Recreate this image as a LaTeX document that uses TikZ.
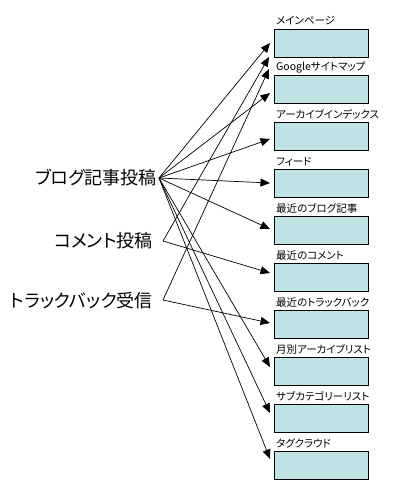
\documentclass[tikz,border=0pt]{standalone}
\usepackage{fontspec}
\newfontfamily\jp[RawFeature=+palt]{Noto Sans CJK JP}
\usetikzlibrary{arrows.meta}
\definecolor{boxfill}{RGB}{191,226,228}
\tikzset{
  box/.style={draw=black, line width=0.9pt, fill=boxfill, minimum width=94pt, minimum height=28pt, inner sep=0pt},
  lbl/.style={anchor=west, inner sep=0pt, font=\jp\fontsize{10.5}{12}\selectfont},
  src/.style={anchor=east, inner sep=0pt, font=\jp\fontsize{18}{20}\selectfont},
  conn/.style={draw=black, line width=0.7pt, -{Triangle[length=9.5pt,width=8pt]}}
}
\begin{document}
\begin{tikzpicture}[x=1pt,y=-1pt]
\useasboundingbox (0,0) rectangle (400,500);
% boxes and labels
\foreach \i/\t in {1/メインページ,2/Googleサイトマップ,3/アーカイブインデックス,4/フィード,5/最近のブログ記事,6/最近のコメント,7/最近のトラックバック,8/月別アーカイブリスト,9/サブカテゴリーリスト,10/タグクラウド}{
  \node[box] (b\i) at (321,{43+46.9*(\i-1)}) {};
  \node[lbl] (l\i) at (276,{21+46.9*(\i-1)}) {\t};
}
% sources
\node[src] (p1) at (157,178) {ブログ記事投稿};
\node[src] (p2) at (153,241) {コメント投稿};
\node[src] (p3) at (153,301) {トラックバック受信};
\coordinate (s1) at (159,178);
\coordinate (s2) at (163,241);
\coordinate (s3) at (163,300);
% end points
\coordinate (e1) at (270,43);
\coordinate (e2) at (270,93);
\coordinate (e3) at (270,139);
\coordinate (e4) at (270,183);
\coordinate (e5) at (270,229);
\coordinate (e8) at (270,367);
\coordinate (e9) at (270,413);
\coordinate (e10) at (270,459);
\coordinate (c1) at (269,57);
\coordinate (c6) at (270,273);
\coordinate (t1) at (269,69);
\coordinate (t7) at (270,323);
\foreach \e in {e1,e2,e3,e4,e5,e8,e9,e10}{\draw[conn] (s1) -- (\e);}
\draw[conn] (s2) -- (c1);
\draw[conn] (s2) -- (c6);
\draw[conn] (s3) -- (t1);
\draw[conn] (s3) -- (t7);
\end{tikzpicture}
\end{document}
